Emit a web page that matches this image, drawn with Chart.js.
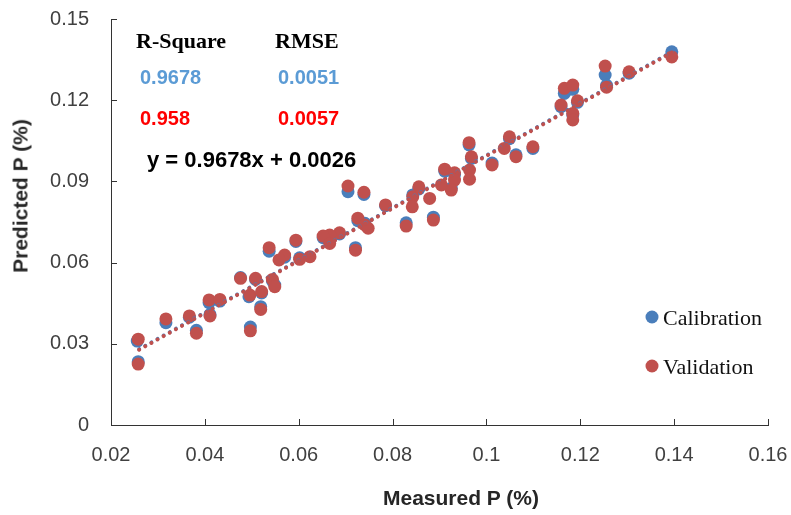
<!DOCTYPE html>
<html>
<head>
<meta charset="utf-8">
<script src="https://cdn.jsdelivr.net/npm/chart.js@4.4.1/dist/chart.umd.min.js"></script>
<style>
  body { margin: 0; background: #fff; }
  #wrap { position: relative; width: 791px; height: 515px; }
  .note { position: absolute; line-height: 1; white-space: nowrap; transform: translateY(-50%); }
  .serif { font-family: "Liberation Serif", "Times New Roman", serif; font-weight: bold; font-size: 22px; color: #000; }
  .num { font-family: "Liberation Sans", Arial, sans-serif; font-weight: bold; font-size: 20px; }
  .leg { font-family: "Liberation Serif", "Times New Roman", serif; font-size: 22px; color: #111; }
  .dot { position: absolute; width: 13px; height: 13px; border-radius: 50%; transform: translate(-50%, -50%); }
  .axt { position: absolute; line-height: 1; white-space: nowrap; font-family: "Liberation Sans", Arial, sans-serif;
         font-weight: bold; font-size: 21px; color: #262626; }
</style>
</head>
<body>
<div id="wrap">
  <canvas id="myChart" width="791" height="515"></canvas>

  <div class="axt" style="left:461px; top:497px; transform:translate(-50%, -50%);">Measured P (%)</div>
  <div class="axt" style="left:20px; top:196px; transform:translate(-50%, -50%) rotate(-90deg);">Predicted P (%)</div>

  <div class="note serif" style="left:136px; top:41px;">R-Square</div>
  <div class="note serif" style="left:275px; top:41px;">RMSE</div>
  <div class="note num" style="left:140px; top:77px; color:#5b9bd5;">0.9678</div>
  <div class="note num" style="left:278px; top:77px; color:#5b9bd5;">0.0051</div>
  <div class="note num" style="left:140px; top:118px; color:#ff0000;">0.958</div>
  <div class="note num" style="left:278px; top:118px; color:#ff0000;">0.0057</div>
  <div class="note num" style="left:147px; top:160px; color:#000; font-size:22px;">y = 0.9678x + 0.0026</div>

  <div class="dot" style="left:652px; top:317px; background:#4a7ebb;"></div>
  <div class="note leg" style="left:663px; top:318px;">Calibration</div>
  <div class="dot" style="left:652px; top:366px; background:#c0504d;"></div>
  <div class="note leg" style="left:663px; top:367px;">Validation</div>
</div>

<script>
// 검증 세트 (Validation) - 측정값 / 예측값
var valX = [0.0258, 0.0258, 0.0317, 0.0367, 0.0382, 0.0409, 0.0411, 0.0432, 0.0476, 0.0497,
            0.0496, 0.0508, 0.0521, 0.0519, 0.0537, 0.0705, 0.0739, 0.0785, 0.0726, 0.0741,
            0.0748, 0.0721, 0.0687, 0.0666, 0.0652, 0.0666, 0.0594, 0.0570, 0.0558, 0.0602,
            0.0624, 0.0544, 0.0549, 0.0963, 0.0968, 0.0964, 0.0964, 0.0911, 0.0932, 0.0932,
            0.0925, 0.0904, 0.0856, 0.0843, 0.0842, 0.0879, 0.0829, 0.0887, 0.1012, 0.1049,
            0.1038, 0.1063, 0.1099, 0.1395, 0.1304, 0.1253, 0.1256, 0.1166, 0.1184, 0.1194,
            0.1159, 0.1184, 0.1184];
var valY = [0.0317, 0.0225, 0.0392, 0.0403, 0.0339, 0.0462, 0.0403, 0.0464, 0.0542, 0.0348,
            0.0480, 0.0542, 0.0493, 0.0427, 0.0655, 0.0883, 0.0860, 0.0813, 0.0764, 0.0739,
            0.0727, 0.0646, 0.0710, 0.0702, 0.0698, 0.0671, 0.0683, 0.0628, 0.0610, 0.0612,
            0.0622, 0.0538, 0.0511, 0.1043, 0.0991, 0.0942, 0.0908, 0.0945, 0.0932, 0.0905,
            0.0868, 0.0887, 0.0880, 0.0843, 0.0806, 0.0837, 0.0735, 0.0757, 0.0961, 0.1065,
            0.1022, 0.0991, 0.1028, 0.1360, 0.1305, 0.1326, 0.1248, 0.1244, 0.1256, 0.1198,
            0.1182, 0.1151, 0.1127];

// 보정 세트 (Calibration)
var calX = [0.0256, 0.0258, 0.0317, 0.0367, 0.0382, 0.0409, 0.0411, 0.0432, 0.0476, 0.0497,
            0.0494, 0.0508, 0.0521, 0.0519, 0.0537, 0.0705, 0.0739, 0.0785, 0.0726, 0.0741,
            0.0721, 0.0687, 0.0652, 0.0594, 0.0570, 0.0602, 0.0544, 0.0549, 0.0963, 0.0968,
            0.0932, 0.0911, 0.0925, 0.0856, 0.0843, 0.0829, 0.0887, 0.1012, 0.1049, 0.1063,
            0.1099, 0.1395, 0.1304, 0.1253, 0.1256, 0.1166, 0.1184, 0.1194, 0.1159, 0.1184];
var calY = [0.0310, 0.0234, 0.0378, 0.0398, 0.0350, 0.0452, 0.0408, 0.0458, 0.0545, 0.0362,
            0.0474, 0.0538, 0.0488, 0.0437, 0.0642, 0.0862, 0.0852, 0.0810, 0.0755, 0.0745,
            0.0655, 0.0706, 0.0692, 0.0678, 0.0620, 0.0618, 0.0532, 0.0517, 0.1035, 0.0985,
            0.0925, 0.0938, 0.0875, 0.0872, 0.0850, 0.0747, 0.0768, 0.0968, 0.1058, 0.0998,
            0.1022, 0.1379, 0.1300, 0.1293, 0.1255, 0.1225, 0.1240, 0.1192, 0.1176, 0.1145];

// 추세선 끝점 (y = 0.9678x + 0.0026)
var trendX = [0.026, 0.140];
var valTrendY = [0.0278, 0.1381];
var calTrendY = [0.0280, 0.1383];

// 축 눈금 라벨
var xTickLabels = ['0.02', '0.04', '0.06', '0.08', '0.1', '0.12', '0.14', '0.16'];
var yTickLabels = ['0', '0.03', '0.06', '0.09', '0.12', '0.15'];

function toPoints(xs, ys) {
    var pts = [];
    for (var i = 0; i < xs.length; i++) {
        pts.push({ x: xs[i], y: ys[i] });
    }
    return pts;
}

// 안쪽으로 향하는 눈금 표시
var innerTicks = {
    id: 'innerTicks',
    afterDraw: function(chart) {
        var c = chart.ctx;
        var xs = chart.scales.x, ys = chart.scales.y;
        var area = chart.chartArea;
        c.save();
        c.strokeStyle = '#333';
        c.lineWidth = 1;
        c.beginPath();
        xs.ticks.forEach(function(t) {
            var px = Math.round(xs.getPixelForValue(t.value)) + 0.5;
            c.moveTo(px, area.bottom);
            c.lineTo(px, area.bottom - 6);
        });
        ys.ticks.forEach(function(t) {
            var py = Math.round(ys.getPixelForValue(t.value)) + 0.5;
            c.moveTo(area.left, py);
            c.lineTo(area.left + 6, py);
        });
        c.stroke();
        c.restore();
    }
};

var ctx = document.getElementById('myChart').getContext('2d');
var myChart = new Chart(ctx, {
    type: 'scatter',
    data: {
        datasets: [{
            label: 'Validation trend',
            type: 'line',
            data: toPoints(trendX, valTrendY),
            borderColor: '#c0504d',
            borderWidth: 4,
            borderDash: [0.01, 7],
            borderCapStyle: 'round',
            pointRadius: 0,
            fill: false,
            order: 0
        },
        {
            label: 'Calibration trend',
            type: 'line',
            data: toPoints(trendX, calTrendY),
            borderColor: '#4a7ebb',
            borderWidth: 4,
            borderDash: [0.01, 7],
            borderCapStyle: 'round',
            pointRadius: 0,
            fill: false,
            order: 1
        },
        {
            label: 'Validation',
            data: toPoints(valX, valY),
            backgroundColor: '#c0504d',
            borderColor: '#c0504d',
            pointRadius: 6.5,
            borderWidth: 0,
            order: 2
        },
        {
            label: 'Calibration',
            data: toPoints(calX, calY),
            backgroundColor: '#4a7ebb',
            borderColor: '#4a7ebb',
            pointRadius: 6.5,
            borderWidth: 0,
            order: 3
        }]
    },
    options: {
        responsive: false,
        animation: false,
        layout: { padding: { top: 19, right: 23, left: 0, bottom: 0 } },
        plugins: {
            legend: { display: false },
            tooltip: { enabled: false }
        },
        scales: {
            x: {
                type: 'linear',
                min: 0.02,
                max: 0.16,
                afterFit: function(s) {
                    s.height = 90;
                    s.paddingLeft = 0;
                    s.paddingRight = 0;
                },
                grid: { display: false, drawTicks: false },
                border: { display: true, color: '#333', width: 1 },
                ticks: {
                    stepSize: 0.02,
                    padding: 18,
                    color: '#404040',
                    font: { family: 'Liberation Sans', size: 20 },
                    callback: function(v) {
                        var i = Math.round((v - 0.02) / 0.02);
                        return xTickLabels[i];
                    }
                },
                title: { display: false }
            },
            y: {
                type: 'linear',
                min: 0,
                max: 0.15,
                afterFit: function(s) {
                    s.width = 111;
                    s.paddingTop = 0;
                    s.paddingBottom = 0;
                },
                grid: { display: false, drawTicks: false },
                border: { display: true, color: '#333', width: 1 },
                ticks: {
                    stepSize: 0.03,
                    padding: 22,
                    color: '#404040',
                    font: { family: 'Liberation Sans', size: 20 },
                    callback: function(v) {
                        var i = Math.round(v / 0.03);
                        return yTickLabels[i];
                    }
                },
                title: { display: false }
            }
        }
    },
    plugins: [innerTicks]
});
</script>
</body>
</html>
